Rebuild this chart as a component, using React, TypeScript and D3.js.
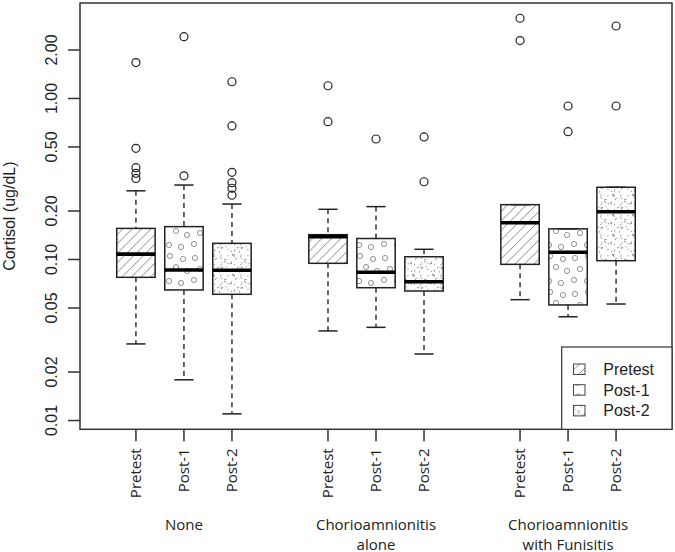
import * as d3 from "d3";

const groups = [["None"], ["Chorioamnionitis", "alone"], ["Chorioamnionitis", "with Funisitis"]];
const groupCenters = [2, 6, 10];
const timepoints = ["Pretest", "Post-1", "Post-2"];
const positions = [1, 2, 3, 5, 6, 7, 9, 10, 11];

// box stats (ug/dL)
const lowerWhisker = [0.0299, 0.0179, 0.011, 0.036, 0.0379, 0.0259, 0.0563, 0.0441, 0.0529];
const q1 = [0.0775, 0.0647, 0.0608, 0.0947, 0.0668, 0.0637, 0.0933, 0.0522, 0.0983];
const median = [0.108, 0.086, 0.0857, 0.1386, 0.0833, 0.0728, 0.169, 0.111, 0.198];
const q3 = [0.156, 0.16, 0.126, 0.1426, 0.135, 0.104, 0.219, 0.155, 0.281];
const upperWhisker = [0.267, 0.29, 0.221, 0.205, 0.213, 0.1157, 0.219, 0.155, 0.281];
const outliers = [
  [1.67, 0.49, 0.372, 0.343, 0.319],
  [2.42, 0.331],
  [1.27, 0.675, 0.348, 0.3, 0.277, 0.251],
  [1.2, 0.718],
  [0.56],
  [0.577, 0.304],
  [3.15, 2.29],
  [0.898, 0.622],
  [2.82, 0.898],
];

const yTicks = [0.01, 0.02, 0.05, 0.1, 0.2, 0.5, 1, 2];

const width = 675;
const height = 552;
const left = 80;
const right = 672;
const top = 3;
const bottom = 429.3;

const fills = ["url(#hatch)", "url(#rings)", "url(#stipple)"];

// deterministic dot layout for the stipple tile
const stippleDots = (() => {
  const pts: [number, number][] = [];
  let s = 17;
  const rnd = () => {
    s = (s * 1103515245 + 12345) % 2147483648;
    return s / 2147483648;
  };
  for (let i = 0; i < 34; i++) pts.push([rnd() * 20, rnd() * 20]);
  return pts;
})();

const ringDots: [number, number][] = [
  [5, 6], [18, 4], [31, 7],
  [10, 17], [24, 15], [35, 19],
  [4, 28], [17, 29], [29, 31],
];

export default function App() {
  const x = d3.scaleLinear([-0.165, 12.165], [left, right]);
  const y = d3.scaleLog([0.00882, 3.917], [bottom, top]);
  const bw = 0.8 * (x(1) - x(0));
  const cap = bw / 4;
  const sans = "Liberation Sans, Arial, sans-serif";
  const open = "Open Sans, sans-serif";

  return (
    <svg
      width={width}
      height={height}
      style={{ position: "absolute", left: 0, top: 0, background: "#fff" }}
    >
      <defs>
        <pattern id="hatch" patternUnits="userSpaceOnUse" width={9.5} height={9.5}>
          <path
            d="M-1,1 l2,-2 M0,9.5 l9.5,-9.5 M8.5,10.5 l2,-2"
            stroke="#666"
            strokeWidth={0.8}
          />
        </pattern>
        <pattern id="rings" patternUnits="userSpaceOnUse" width={38} height={36}>
          {ringDots.map(([cx, cy], i) => (
            <circle key={i} cx={cx} cy={cy} r={2.6} fill="none" stroke="#777" strokeWidth={0.8} />
          ))}
        </pattern>
        <pattern id="stipple" patternUnits="userSpaceOnUse" width={20} height={20}>
          {stippleDots.map(([cx, cy], i) => (
            <circle key={i} cx={cx} cy={cy} r={0.55} fill="#666" />
          ))}
        </pattern>
      </defs>

      {/* boxes */}
      {positions.map((p, i) => {
        const cx = x(p);
        return (
          <g key={i}>
            <line
              x1={cx} x2={cx} y1={y(upperWhisker[i])} y2={y(q3[i])}
              stroke="#333" strokeWidth={1.5} strokeDasharray="5,4"
            />
            <line
              x1={cx} x2={cx} y1={y(q1[i])} y2={y(lowerWhisker[i])}
              stroke="#333" strokeWidth={1.5} strokeDasharray="5,4"
            />
            <line x1={cx - cap} x2={cx + cap} y1={y(upperWhisker[i])} y2={y(upperWhisker[i])} stroke="#222" strokeWidth={1.5} />
            <line x1={cx - cap} x2={cx + cap} y1={y(lowerWhisker[i])} y2={y(lowerWhisker[i])} stroke="#222" strokeWidth={1.5} />
            <rect
              x={cx - bw / 2}
              y={y(q3[i])}
              width={bw}
              height={y(q1[i]) - y(q3[i])}
              fill={fills[i % 3]}
              stroke="#222"
              strokeWidth={1.5}
            />
            <line x1={cx - bw / 2} x2={cx + bw / 2} y1={y(median[i])} y2={y(median[i])} stroke="#000" strokeWidth={3.6} />
            {outliers[i].map((v, j) => (
              <circle key={j} cx={cx} cy={y(v)} r={4} fill="none" stroke="#222" strokeWidth={1.2} />
            ))}
          </g>
        );
      })}

      {/* plot frame */}
      <rect x={left} y={top} width={right - left} height={bottom - top} fill="none" stroke="#333" strokeWidth={1.5} />

      {/* y axis */}
      {yTicks.map((t) => (
        <g key={t}>
          <line x1={left - 12} x2={left} y1={y(t)} y2={y(t)} stroke="#333" strokeWidth={1.5} />
          <text
            transform={`translate(57,${y(t)}) rotate(-90)`}
            textAnchor="middle"
            fontFamily={sans}
            fontSize={16}
            fill="#222"
          >
            {t.toFixed(2)}
          </text>
        </g>
      ))}
      <text
        transform={`translate(14.5,${(top + bottom) / 2}) rotate(-90)`}
        textAnchor="middle"
        fontFamily={sans}
        fontSize={16}
        fill="#222"
      >
        Cortisol (ug/dL)
      </text>

      {/* x axis */}
      {positions.map((p, i) => (
        <g key={i}>
          <line x1={x(p)} x2={x(p)} y1={bottom} y2={bottom + 12} stroke="#333" strokeWidth={1.5} />
          <text
            transform={`translate(${x(p)},${bottom + 19}) rotate(-90)`}
            textAnchor="end"
            dy="0.36em"
            fontFamily={open}
            fontSize={15}
            fill="#222"
          >
            {timepoints[i % 3]}
          </text>
        </g>
      ))}
      {groups.map((lines, g) =>
        lines.map((l, k) => (
          <text
            key={`${g}-${k}`}
            x={x(groupCenters[g])}
            y={530 + k * 19.5}
            textAnchor="middle"
            fontFamily={open}
            fontSize={15}
            fill="#222"
          >
            {l}
          </text>
        ))
      )}

      {/* legend */}
      <g>
        <rect x={561.7} y={347} width={right - 561.7} height={bottom - 347} fill="#fff" stroke="#333" strokeWidth={1.2} />
        {timepoints.map((t, i) => (
          <g key={t} transform={`translate(573.5,${370 + i * 20.7})`}>
            <rect x={0} y={-6} width={11.5} height={10.5} fill={fills[i]} stroke="#444" strokeWidth={1} />
            <text x={29.8} y={5} fontFamily={sans} fontSize={16} fill="#222">
              {t}
            </text>
          </g>
        ))}
      </g>
    </svg>
  );
}
